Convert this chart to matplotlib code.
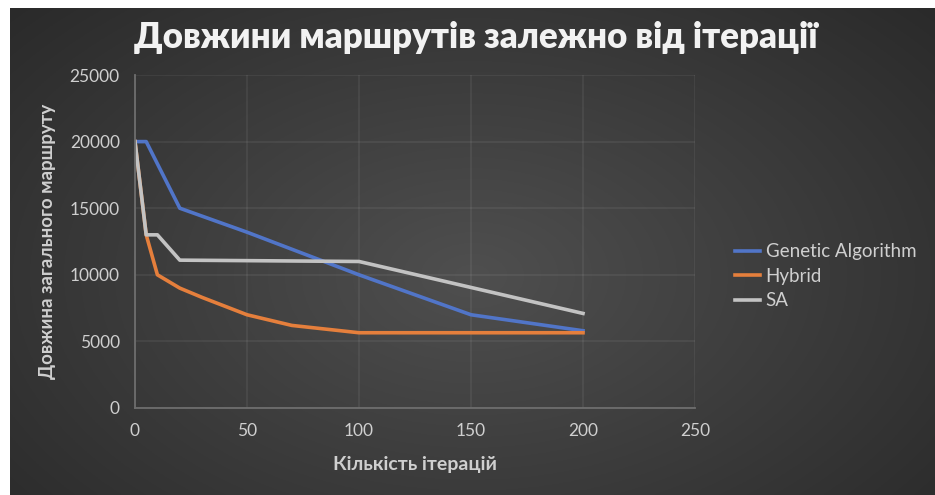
import numpy as np
import matplotlib
matplotlib.use("Agg")
import matplotlib.pyplot as plt

##### data #####

ga_x = [0, 5, 20, 50, 100, 150, 200]
ga_y = [20000, 20000, 15000, 13200, 10000, 7000, 5800]

hybrid_x = [0, 5, 10, 20, 30, 50, 70, 100, 150, 200]
hybrid_y = [20000, 13000, 10000, 9000, 8300, 7000, 6200, 5650, 5650, 5650]

sa_x = [0, 5, 10, 20, 100, 200]
sa_y = [20000, 13000, 13000, 11100, 11000, 7100]

x_ticks = [0, 50, 100, 150, 200, 250]
y_ticks = [0, 5000, 10000, 15000, 20000, 25000]

title = "Довжини маршрутів залежно від ітерації"
x_label = "Кількість ітерацій"
y_label = "Довжина загального маршруту"

FONT = ["Lato", "DejaVu Sans"]
TEXT = "#cfcfcf"

##### figure #####

fig = plt.figure(figsize=(9.35, 4.95), dpi=100)
fig.patch.set_facecolor("white")

# dark radial background (excel-ish)
bg = fig.add_axes([10/935, 0, 925/935, 487/495])
bg.set_axis_off()
yy, xx = np.mgrid[0:1:300j, 0:1:600j]
r = np.sqrt(((xx - 0.5) / 0.75) ** 2 + ((yy - 0.45) / 0.9) ** 2)
shade = np.clip(0.31 - 0.16 * r, 0.15, 0.31)
bg.imshow(np.dstack([shade] * 3), aspect="auto", extent=[0, 1, 0, 1], origin="lower")
bg.set_zorder(0)

ax = fig.add_axes([135/935, 1 - 408/495, 560/935, 333/495])
ax.set_facecolor("none")
ax.set_zorder(1)

ax.plot(ga_x, ga_y, color="#5175c8", lw=2.6, label="Genetic Algorithm", solid_joinstyle="round")
ax.plot(hybrid_x, hybrid_y, color="#e57f3c", lw=2.6, label="Hybrid", solid_joinstyle="round")
ax.plot(sa_x, sa_y, color="#c3c3c3", lw=2.6, label="SA", solid_joinstyle="round")

ax.set_xlim(0, 250)
ax.set_ylim(0, 25000)
ax.set_xticks(x_ticks)
ax.set_yticks(y_ticks)
# faint grid, same contrast everywhere on the gradient
ax.grid(True, color="white", alpha=0.08, lw=1.1)
ax.set_axisbelow(True)

for s in ["top", "right"]:
	ax.spines[s].set_visible(False)
for s in ["left", "bottom"]:
	ax.spines[s].set_color("#6e6e6e")
	ax.spines[s].set_linewidth(1.3)

ax.tick_params(length=0, colors=TEXT, labelsize=12.5, pad=11)
for lbl in ax.get_xticklabels() + ax.get_yticklabels():
	lbl.set_family(FONT)

ax.set_xlabel(x_label, color=TEXT, fontsize=14, fontweight="bold", family=FONT, labelpad=12)
ax.set_ylabel(y_label, color=TEXT, fontsize=13.5, fontweight="bold", family=FONT, labelpad=10)

fig.text(476/935, 1 - 37/495, title, color="#f2f2f2", fontsize=25, fontweight="heavy",
	family=FONT, ha="center", va="center")

leg = ax.legend(loc="center left", bbox_to_anchor=(1.071, 0.396), frameon=False,
	prop={"family": FONT, "size": 13.5}, handlelength=1.35, handletextpad=0.3,
	labelspacing=0.4, borderpad=0, borderaxespad=0)
for t in leg.get_texts():
	t.set_color(TEXT)

fig.savefig("out.png", dpi=100)
